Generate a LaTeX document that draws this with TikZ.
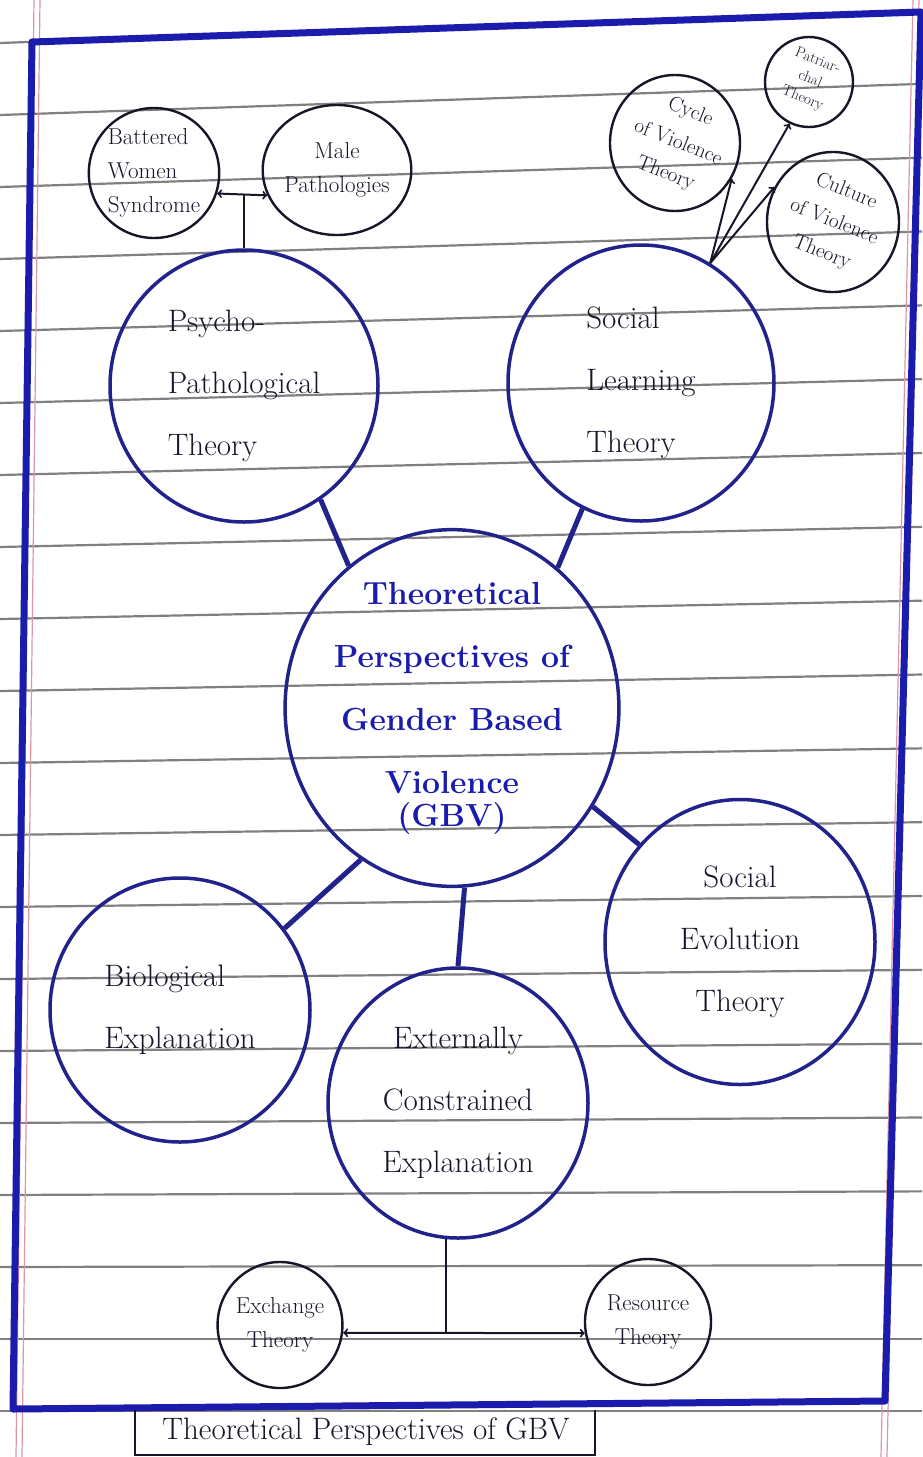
\documentclass[tikz,border=0pt]{standalone}
\usepackage{amsmath}
\usepackage{tikz}
\usetikzlibrary{shapes,arrows}
\usetikzlibrary{positioning}

\definecolor{ink}{RGB}{34,34,140}
\definecolor{pen}{RGB}{28,28,172}
\definecolor{lead}{RGB}{22,22,40}
\definecolor{paperline}{RGB}{128,128,128}
\definecolor{marginred}{RGB}{220,150,165}

\begin{document}
\begin{tikzpicture}[x=1pt,y=-1pt,
    bigbub/.style={ellipse,draw=ink,line width=3.5,inner sep=0pt,align=center,text=lead,font=\fontsize{31}{62}\selectfont},
    smallbub/.style={ellipse,draw=lead,line width=2.4,inner sep=0pt,align=center,text=lead,font=\fontsize{23}{34}\selectfont},
    tilted/.style={align=center,text=lead,inner sep=0pt,font=\fontsize{21}{33}\selectfont},
    spoke/.style={draw=ink,line width=5},
    twig/.style={draw=lead,line width=2}]
    \fill[white] (0,0) rectangle (922,1457);
    \useasboundingbox (0,0) rectangle (922,1457);
    % ruled paper
    \foreach \k in {0,...,19}
      \draw[paperline,line width=2.2] (0,{43+72*\k}) -- (922,{43+72*\k-33*max(0,1-\k/18)});
    \draw[marginred,line width=1.2] (34,0) -- (16,1457);
    \draw[marginred,line width=1.2] (40,0) -- (22,1457);
    \draw[marginred,line width=1.2] (913,0) -- (881,1457);
    \draw[marginred,line width=1.2] (919,0) -- (887,1457);
    % frame
    \draw[pen,line width=7,line join=round] (32,42) -- (921,12) -- (885,1401) -- (13,1409) -- cycle;

    % main topic
    \node[bigbub,minimum width=308,minimum height=310,text=pen,font=\bfseries\fontsize{32}{63}\selectfont] (gbv) at (452,708)
      {Theoretical\\Perspectives of\\Gender Based\\Violence\\[-30pt](GBV)};
    \node[bigbub,minimum width=268,minimum height=272,align=left] (psy) at (244,386) {Psycho-\\Pathological\\Theory};
    \node[bigbub,minimum width=266,minimum height=276,align=left] (slt) at (641,383) {Social\\Learning\\Theory};
    \node[bigbub,minimum width=260,minimum height=264,align=left] (bio) at (180,1010) {Biological\\Explanation};
    \node[bigbub,minimum width=260,minimum height=270] (ece) at (458,1103) {Externally\\Constrained\\Explanation};
    \node[bigbub,minimum width=270,minimum height=285] (evo) at (740,942) {Social\\Evolution\\Theory};

    % sub theories
    \node[smallbub,minimum width=128,minimum height=130,align=left] (bws) at (154,173) {Battered\\Women\\Syndrome};
    \node[smallbub,minimum width=130,minimum height=130] (mpt) at (337,170) {Male\\Pathologies};
    \node[smallbub,minimum width=130,minimum height=136] (cvt) at (675,143) {};
    \node[tilted,rotate=-22] (cvtx) at (678,143) {Cycle\\of Violence\\Theory};
    \node[smallbub,minimum width=88,minimum height=90] (pat) at (809,82) {};
    \node[tilted,rotate=-22,font=\fontsize{15}{20}\selectfont] (patx) at (810,80) {Patriar-\\chal\\Theory};
    \node[smallbub,minimum width=132,minimum height=140] (cov) at (833,222) {};
    \node[tilted,rotate=-22] (covx) at (834,222) {Culture\\of Violence\\Theory};
    \node[smallbub,minimum width=124,minimum height=126] (ext) at (280,1325) {Exchange\\Theory};
    \node[smallbub,minimum width=126,minimum height=126] (rst) at (648,1322) {Resource\\Theory};

    % spokes from the centre
    \draw[spoke] (gbv.126) -- (psy.-56);
    \draw[spoke] (gbv.53) -- (slt.-115);
    \draw[spoke] (gbv.-35) -- (evo.136);
    \draw[spoke] (gbv.-121) -- (bio.38);
    \draw[spoke] (gbv.-86) -- (ece.90);

    % branches
    \coordinate (psyjoin) at (psy.north |- bws.-18);
    \draw[twig,<->] (bws.-18) -- (mpt.-160);
    \draw[twig] (psy.north) -- (psyjoin);
    \coordinate (fan) at (slt.60);
    \draw[twig,->] (fan) -- (cvt.-32);
    \draw[twig,->] (fan) -- (pat.-115);
    \draw[twig,->] (fan) -- (cov.149);
    \coordinate (ecejoin) at (ece.-95 |- ext.-7);
    \draw[twig,<->] (ext.-7) -- (rst.-170);
    \draw[twig] (ece.-95) -- (ecejoin);

    % caption
    \node[text=lead,font=\fontsize{31}{36}\selectfont] (cap) at (366,1432) {Theoretical Perspectives of GBV};
    \draw[lead,line width=1.8] (135,1410) -- (135,1455) -- (595,1455) -- (595,1410);
\end{tikzpicture}
\end{document}
